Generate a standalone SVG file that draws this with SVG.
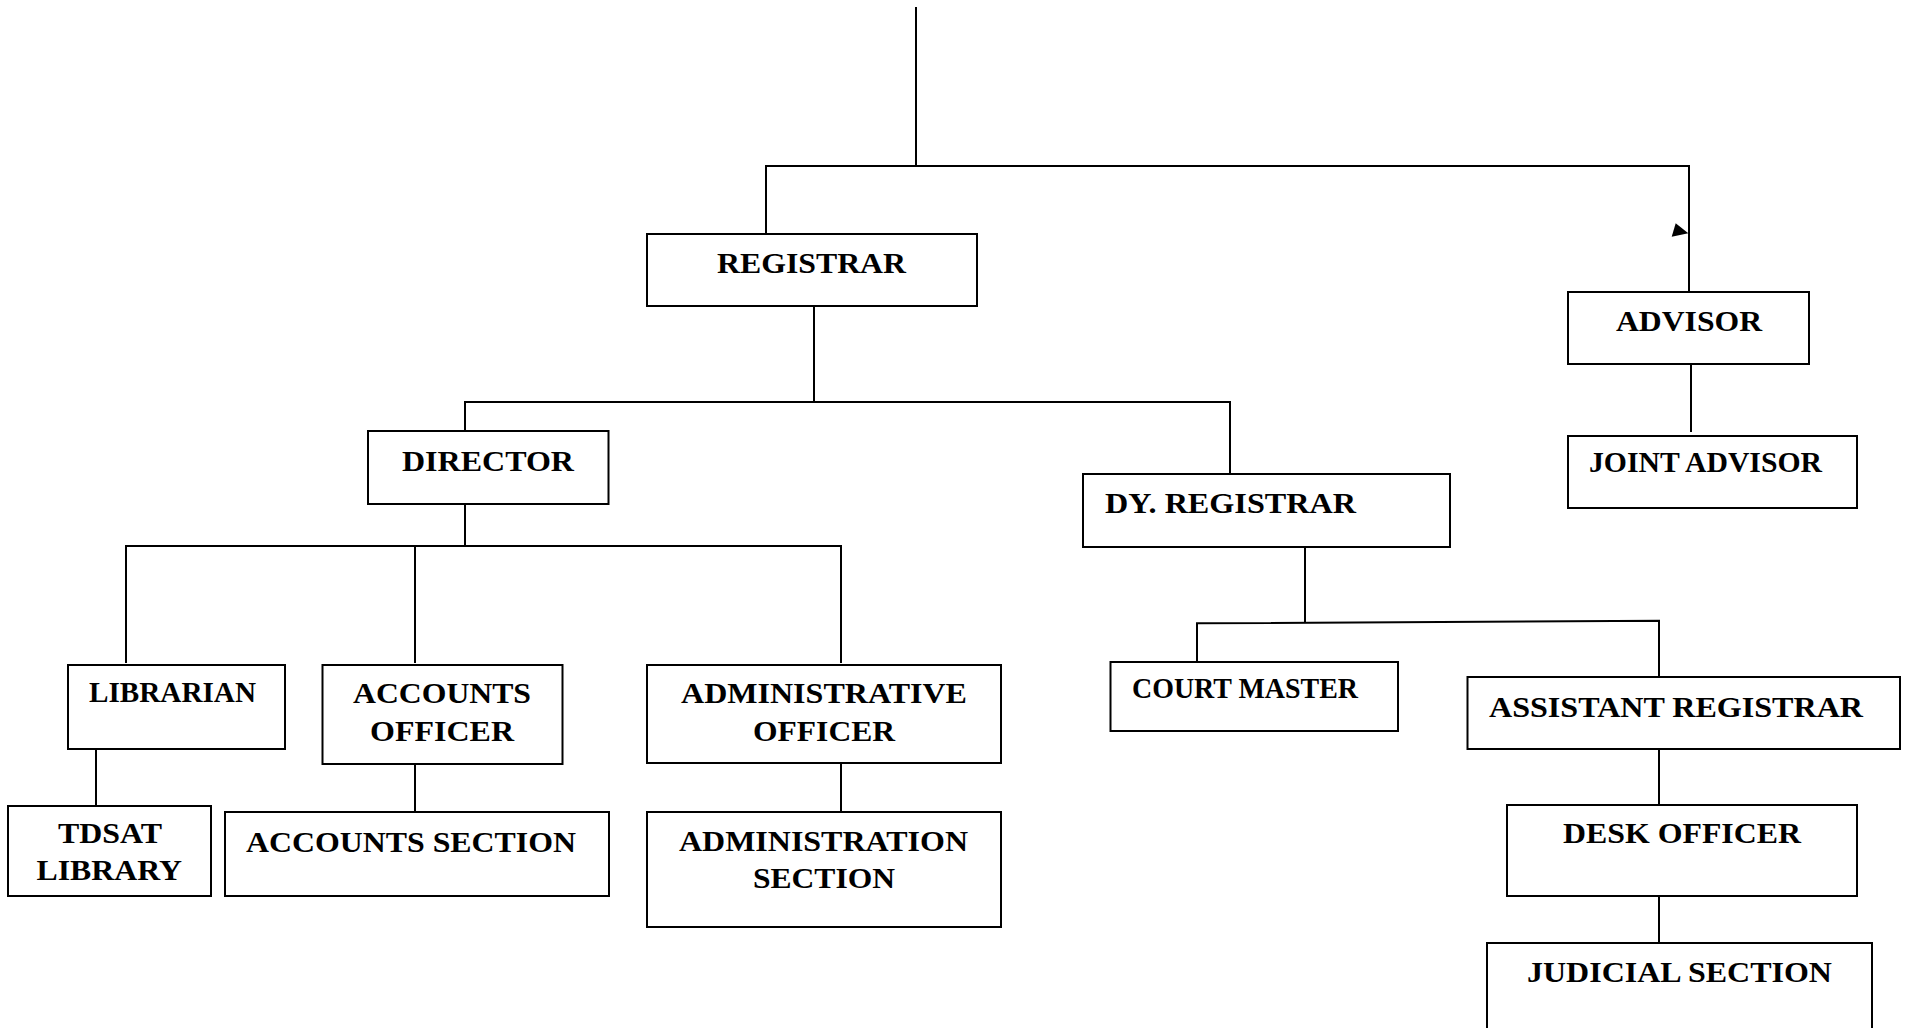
<svg xmlns="http://www.w3.org/2000/svg" width="1906" height="1028" viewBox="0 0 1906 1028">
<style>
.box{fill:#fff;stroke:#000;stroke-width:2}
.ln{fill:none;stroke:#000;stroke-width:2}
text{font-family:"Liberation Serif","Times New Roman",serif;font-weight:bold;font-size:30px;fill:#000}
</style>
<rect width="1906" height="1028" fill="#fff"/>
<g id="connectors">
<path class="ln" d="M916,7 V166"/>
<path class="ln" d="M766,234 V166 H1689 V292"/>
<polygon points="1675.7,223.3 1671.7,236.7 1688.3,233.3" fill="#000"/>
<path class="ln" d="M814,306 V402"/>
<path class="ln" d="M465,435 V402 H1230 V474"/>
<path class="ln" d="M465,504 V546"/>
<path class="ln" d="M126,663 V546 H841 V663"/>
<path class="ln" d="M415,546 V663"/>
<path class="ln" d="M96,749 V806"/>
<path class="ln" d="M415,764 V812"/>
<path class="ln" d="M841,763 V812"/>
<path class="ln" d="M1691,364 V432"/>
<path class="ln" d="M1305,547 V622"/>
<path class="ln" d="M1197,661 V623.3 L1659,620.7 V677"/>
<path class="ln" d="M1659,749 V805"/>
<path class="ln" d="M1659,896 V943"/>
</g>
<g id="registrar"><rect class="box" x="647" y="234" width="330" height="72"/><text x="717" y="273" font-size="33" textLength="189" lengthAdjust="spacingAndGlyphs">REGISTRAR</text></g>
<g id="advisor"><rect class="box" x="1568" y="292" width="241" height="72"/><text x="1616" y="331" font-size="33" textLength="146" lengthAdjust="spacingAndGlyphs">ADVISOR</text></g>
<g id="joint-advisor"><rect class="box" x="1568" y="436" width="289" height="72"/><text x="1589" y="472" font-size="29" textLength="233" lengthAdjust="spacingAndGlyphs">JOINT ADVISOR</text></g>
<g id="director"><rect class="box" x="368" y="431" width="240.5" height="73"/><text x="402" y="471" font-size="31" textLength="172" lengthAdjust="spacingAndGlyphs">DIRECTOR</text></g>
<g id="dy-registrar"><rect class="box" x="1083" y="474" width="367" height="73"/><text x="1105" y="513" textLength="251" lengthAdjust="spacingAndGlyphs">DY. REGISTRAR</text></g>
<g id="librarian"><rect class="box" x="68" y="665" width="217" height="84"/><text x="89" y="702" textLength="167" lengthAdjust="spacingAndGlyphs">LIBRARIAN</text></g>
<g id="accounts-officer"><rect class="box" x="322.5" y="665" width="240" height="99"/><text x="353" y="703" textLength="178" lengthAdjust="spacingAndGlyphs">ACCOUNTS</text><text x="370" y="741" textLength="144" lengthAdjust="spacingAndGlyphs">OFFICER</text></g>
<g id="administrative-officer"><rect class="box" x="647" y="665" width="354" height="98"/><text x="681" y="703" font-size="31" textLength="286" lengthAdjust="spacingAndGlyphs">ADMINISTRATIVE</text><text x="753" y="741" font-size="31" textLength="142" lengthAdjust="spacingAndGlyphs">OFFICER</text></g>
<g id="court-master"><rect class="box" x="1110.5" y="662" width="287.5" height="69"/><text x="1132" y="698" font-size="28" textLength="226" lengthAdjust="spacingAndGlyphs">COURT MASTER</text></g>
<g id="assistant-registrar"><rect class="box" x="1467.5" y="677" width="432.5" height="72"/><text x="1489" y="717" textLength="374" lengthAdjust="spacingAndGlyphs">ASSISTANT REGISTRAR</text></g>
<g id="tdsat-library"><rect class="box" x="8" y="806" width="203" height="90"/><text x="58" y="843" textLength="104" lengthAdjust="spacingAndGlyphs">TDSAT</text><text x="36.5" y="880" textLength="145.5" lengthAdjust="spacingAndGlyphs">LIBRARY</text></g>
<g id="accounts-section"><rect class="box" x="225" y="812" width="384" height="84"/><text x="246" y="852" textLength="330" lengthAdjust="spacingAndGlyphs">ACCOUNTS SECTION</text></g>
<g id="administration-section"><rect class="box" x="647" y="812" width="354" height="115"/><text x="679" y="851" font-size="31" textLength="289" lengthAdjust="spacingAndGlyphs">ADMINISTRATION</text><text x="753" y="888" font-size="31" textLength="142" lengthAdjust="spacingAndGlyphs">SECTION</text></g>
<g id="desk-officer"><rect class="box" x="1507" y="805" width="350" height="91"/><text x="1563" y="843" textLength="238" lengthAdjust="spacingAndGlyphs">DESK OFFICER</text></g>
<g id="judicial-section"><rect class="box" x="1487" y="943" width="385" height="100"/><text x="1527" y="982" font-size="31" textLength="305" lengthAdjust="spacingAndGlyphs">JUDICIAL SECTION</text></g>
</svg>
